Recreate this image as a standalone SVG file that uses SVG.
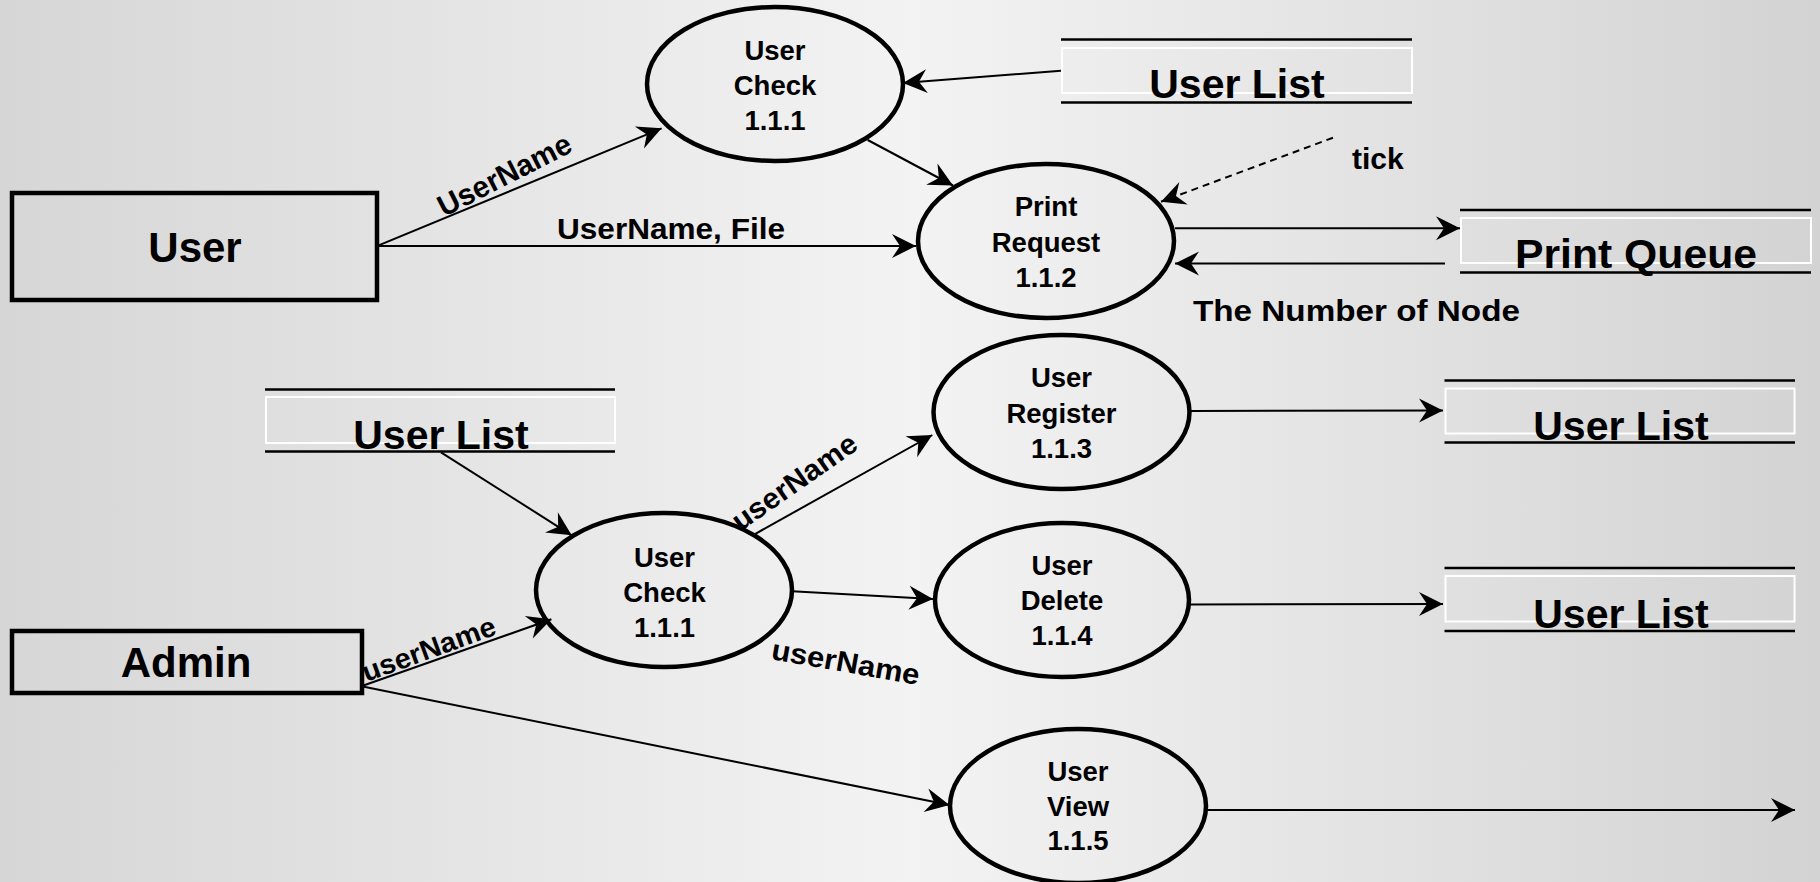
<svg xmlns="http://www.w3.org/2000/svg" width="1820" height="882" viewBox="0 0 1820 882">
<defs>
<linearGradient id="bg" x1="0" y1="0" x2="1" y2="0">
<stop offset="0" stop-color="#d6d6d6"/>
<stop offset="0.5" stop-color="#f3f3f3"/>
<stop offset="1" stop-color="#d3d3d3"/>
</linearGradient>
<marker id="ah" viewBox="-26 -14 28 28" markerWidth="28" markerHeight="28" refX="0" refY="0" orient="auto" markerUnits="userSpaceOnUse">
<path d="M0,0 L-24,-12 L-16,0 L-24,12 Z" fill="#000"/>
</marker>
<style>
.proc{fill:none;stroke:#000;stroke-width:4.5}
.ent{fill:none;stroke:#000;stroke-width:4.5}
.sl{stroke:#000;stroke-width:2.5}
.sw{fill:none;stroke:#fff;stroke-width:2}
.c{fill:none;stroke:#000;stroke-width:2;marker-end:url(#ah)}
.d{stroke-dasharray:7 5}
text{font-family:"Liberation Sans",Arial,sans-serif;font-weight:bold;fill:#000}
.pt{font-size:27.5px;text-anchor:middle}
.lb{font-size:30px}
.st{font-size:41px;text-anchor:middle}
.et{font-size:42px;text-anchor:middle}
</style>
</defs>
<rect x="0" y="0" width="1820" height="882" fill="url(#bg)"/>

<g id="connectors">
<line class="c" x1="1061" y1="70.7" x2="903" y2="83"/>
<line class="c" x1="378" y1="245.7" x2="661.6" y2="128.3"/>
<line class="c" x1="378" y1="246" x2="916" y2="246"/>
<line class="c" x1="867.7" y1="140" x2="953" y2="185.5"/>
<line class="c d" x1="1333" y1="137.7" x2="1161" y2="201.7"/>
<line class="c" x1="1175" y1="228.3" x2="1460" y2="228.3"/>
<line class="c" x1="1445" y1="263.5" x2="1175" y2="263.5"/>
<line class="c" x1="441" y1="452.3" x2="571.7" y2="535.3"/>
<line class="c" x1="362.7" y1="685.7" x2="551.4" y2="619.3"/>
<line class="c" x1="362.7" y1="686.5" x2="949.5" y2="805"/>
<line class="c" x1="754.5" y1="534.3" x2="932.3" y2="435"/>
<line class="c" x1="792" y1="591.3" x2="933" y2="599"/>
<line class="c" x1="1190.5" y1="411" x2="1443" y2="410.5"/>
<line class="c" x1="1189" y1="604.5" x2="1443" y2="604"/>
<line class="c" x1="1206" y1="810" x2="1795" y2="810"/>
<text class="lb" transform="translate(509,184) rotate(-27)" text-anchor="middle" textLength="146" lengthAdjust="spacingAndGlyphs">UserName</text>
<text class="lb" x="671" y="239" text-anchor="middle" textLength="228" lengthAdjust="spacingAndGlyphs">UserName, File</text>
<text class="lb" x="1352" y="169">tick</text>
<text class="lb" x="1193" y="321" textLength="327" lengthAdjust="spacingAndGlyphs">The Number of Node</text>
<text class="lb" transform="translate(432,658) rotate(-20)" text-anchor="middle" style="font-size:28px" textLength="140" lengthAdjust="spacingAndGlyphs">userName</text>
<text class="lb" transform="translate(800,490) rotate(-35)" text-anchor="middle" style="font-size:29px" textLength="146" lengthAdjust="spacingAndGlyphs">userName</text>
<text class="lb" transform="translate(844,672) rotate(10)" text-anchor="middle" style="font-size:29px" textLength="150" lengthAdjust="spacingAndGlyphs">userName</text>
</g>

<g id="user">
<rect class="ent" x="12" y="193" width="365" height="107"/>
<text class="et" x="195" y="262">User</text>
</g>

<g id="admin">
<rect class="ent" x="12" y="631" width="350" height="62"/>
<text class="et" x="186" y="677">Admin</text>
</g>

<g id="usercheck-top">
<ellipse class="proc" cx="775" cy="84" rx="128" ry="77"/>
<text class="pt" x="775" y="60">User</text>
<text class="pt" x="775" y="95">Check</text>
<text class="pt" x="775" y="130">1.1.1</text>
</g>

<g id="printrequest">
<ellipse class="proc" cx="1046" cy="241" rx="128" ry="77"/>
<text class="pt" x="1046" y="216">Print</text>
<text class="pt" x="1046" y="251.5">Request</text>
<text class="pt" x="1046" y="286.5">1.1.2</text>
</g>

<g id="usercheck-bottom">
<ellipse class="proc" cx="664" cy="590" rx="128" ry="77"/>
<text class="pt" x="664.5" y="566.5">User</text>
<text class="pt" x="664.5" y="601.5">Check</text>
<text class="pt" x="664.5" y="636.5">1.1.1</text>
</g>

<g id="userregister">
<ellipse class="proc" cx="1061.5" cy="412" rx="128" ry="77"/>
<text class="pt" x="1061.5" y="387">User</text>
<text class="pt" x="1061.5" y="422.5">Register</text>
<text class="pt" x="1061.5" y="457.5">1.1.3</text>
</g>

<g id="userdelete">
<ellipse class="proc" cx="1062" cy="600" rx="127" ry="77"/>
<text class="pt" x="1062" y="575">User</text>
<text class="pt" x="1062" y="610">Delete</text>
<text class="pt" x="1062" y="645">1.1.4</text>
</g>

<g id="userview">
<ellipse class="proc" cx="1078" cy="806" rx="128" ry="77"/>
<text class="pt" x="1078" y="781">User</text>
<text class="pt" x="1078" y="815.5">View</text>
<text class="pt" x="1078" y="850">1.1.5</text>
</g>

<g id="userlist-top">
<line class="sl" x1="1061" y1="39.5" x2="1412" y2="39.5"/>
<rect class="sw" x="1062" y="48" width="350" height="45"/>
<line class="sl" x1="1061" y1="102.5" x2="1412" y2="102.5"/>
<text class="st" x="1237" y="98">User List</text>
</g>

<g id="printqueue">
<line class="sl" x1="1460" y1="210" x2="1811" y2="210"/>
<rect class="sw" x="1461" y="218" width="350" height="45"/>
<line class="sl" x1="1460" y1="272.5" x2="1811" y2="272.5"/>
<text class="st" x="1636" y="268" textLength="242" lengthAdjust="spacingAndGlyphs">Print Queue</text>
</g>

<g id="userlist-left">
<line class="sl" x1="265" y1="389.5" x2="615" y2="389.5"/>
<rect class="sw" x="266" y="397" width="349" height="46"/>
<line class="sl" x1="265" y1="451.5" x2="615" y2="451.5"/>
<text class="st" x="441" y="449">User List</text>
</g>

<g id="userlist-register">
<line class="sl" x1="1444.5" y1="380.5" x2="1795" y2="380.5"/>
<rect class="sw" x="1445.5" y="388.5" width="349" height="45"/>
<line class="sl" x1="1444.5" y1="442.5" x2="1795" y2="442.5"/>
<text class="st" x="1621" y="439.5">User List</text>
</g>

<g id="userlist-delete">
<line class="sl" x1="1444.5" y1="568" x2="1795" y2="568"/>
<rect class="sw" x="1445.5" y="576" width="349" height="45.5"/>
<line class="sl" x1="1444.5" y1="631" x2="1795" y2="631"/>
<text class="st" x="1621" y="627.5">User List</text>
</g>
</svg>
